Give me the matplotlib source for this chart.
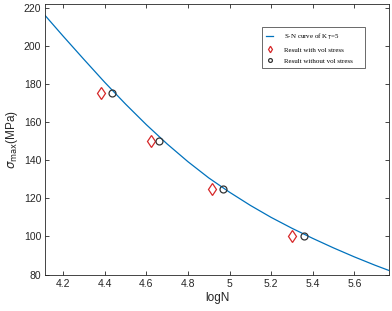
import matplotlib
matplotlib.use("Agg")
import matplotlib.pyplot as plt

# S-N curve
curve_logN = [4.1, 4.2, 4.3, 4.4, 4.5, 4.6, 4.7, 4.8, 4.9, 5.0, 5.1, 5.2, 5.3, 5.4, 5.5, 5.6, 5.7, 5.8]
curve_sigma = [217.5, 205.0, 192.8, 180.8, 169.4, 158.6, 148.5, 139.2, 130.7, 123.2, 116.3, 110.0, 104.3, 99.0, 94.0, 89.3, 84.9, 80.8]

with_logN = [4.38, 4.623, 4.915, 5.30]
with_sigma = [175, 150, 125, 100]
without_logN = [4.433, 4.662, 4.971, 5.358]
without_sigma = [175, 150, 125, 100]

xticks = [4.2, 4.4, 4.6, 4.8, 5.0, 5.2, 5.4, 5.6]
xticklabels = ["4.2", "4.4", "4.6", "4.8", "5", "5.2", "5.4", "5.6"]
yticks = [80, 100, 120, 140, 160, 180, 200, 220]

plt.rcParams['font.family'] = ['Liberation Sans', 'DejaVu Sans']
fig = plt.figure(figsize=(3.92, 3.11), dpi=100)
ax = fig.add_axes([0.116, 0.117, 0.877, 0.871])

ax.plot(curve_logN, curve_sigma, color='#0072BD', lw=0.9, label='S-N curve of K$_T$=5')
ax.plot(with_logN, with_sigma, ls='none', marker='d', ms=6, mfc='none', mec='#D62728', mew=0.9,
        label='Result with vol stress')
ax.plot(without_logN, without_sigma, ls='none', marker='o', ms=5, mfc='none', mec='#333333', mew=0.9,
        label='Result without vol stress')

ax.set_xlim(4.115, 5.768)
ax.set_ylim(80, 222)
ax.set_xticks(xticks)
ax.set_xticklabels(xticklabels)
ax.set_yticks(yticks)
ax.tick_params(direction='in', length=3, width=0.6, top=True, right=True,
               labelsize=7.5, colors='#262626', labelcolor='#262626', pad=3)
for s in ax.spines.values():
    s.set_linewidth(0.6)
    s.set_color('#262626')

ax.set_xlabel('logN', fontsize=8.5, color='#262626', labelpad=2)
ax.set_ylabel(r'$\sigma_{\mathrm{max}}$(MPa)', fontsize=8.5, color='#262626', labelpad=3)

leg = ax.legend(loc='upper left', bbox_to_anchor=(0.63, 0.913, 0.2996, 0.0), mode='expand',
                prop={'family': 'Liberation Serif', 'size': 5},
                frameon=True, fancybox=False, edgecolor='#262626', handlelength=1.0,
                markerscale=0.55, borderpad=0.6, labelspacing=0.75, handletextpad=1.6,
                borderaxespad=0.0)
leg.get_frame().set_linewidth(0.6)

fig.savefig('out.png', dpi=100)
